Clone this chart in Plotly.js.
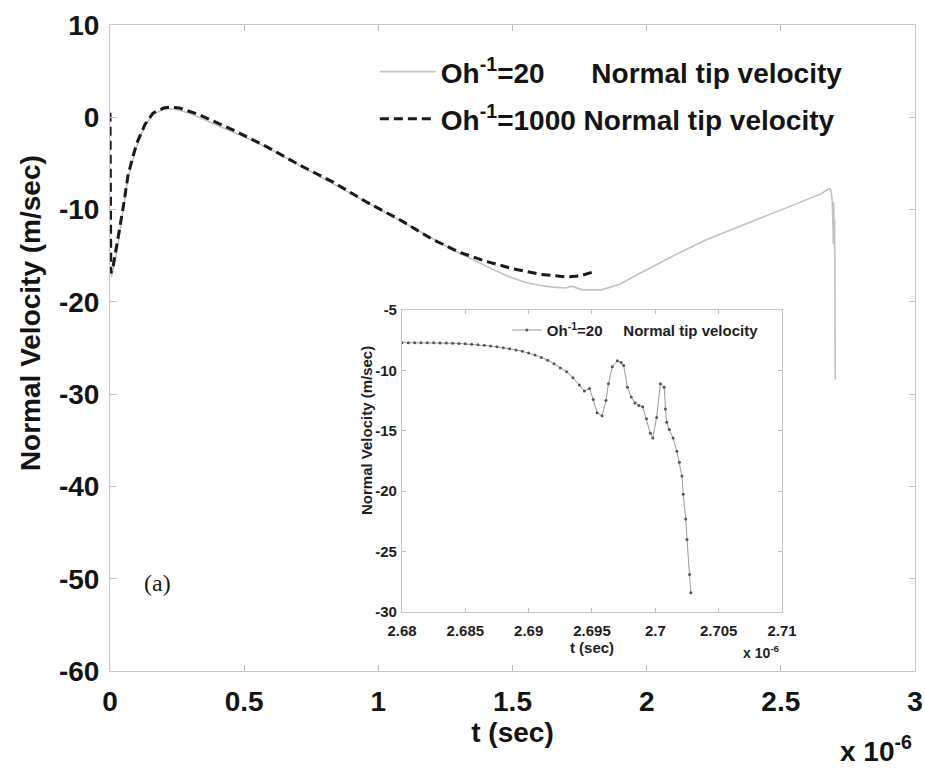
<!DOCTYPE html>
<html>
<head>
<meta charset="utf-8">
<script src="https://cdn.plot.ly/plotly-3.0.1.min.js"></script>
<style>html,body{margin:0;padding:0;background:#fff;}#chart{width:925px;height:770px;}</style>
</head>
<body>
<div id="chart"></div>
<script>
// ---- Data (t in units of 1e-6 s, velocity in m/s) ----
// Oh^-1 = 20, main curve (up to the start of the zoomed region)
var tOh20 = [0.005, 0.02, 0.035, 0.05, 0.067, 0.085, 0.1, 0.13, 0.16, 0.2, 0.24, 0.3, 0.4, 0.5, 0.6, 0.7, 0.8, 0.9, 1.0, 1.1, 1.2, 1.3, 1.4, 1.48, 1.55, 1.6, 1.65, 1.7, 1.72, 1.76, 1.83, 1.9, 1.975, 2.1, 2.22, 2.35, 2.47, 2.58, 2.65, 2.675];
var vOh20 = [-17.3, -15.5, -12.8, -10.0, -6.6, -4.6, -3.1, -0.9, 0.3, 0.9, 0.9, 0.4, -0.9, -2.1, -3.5, -5.1, -6.7, -8.3, -9.9, -11.5, -13.1, -14.7, -16.1, -17.2, -17.9, -18.2, -18.4, -18.5, -18.3, -18.7, -18.7, -18.1, -16.9, -15.0, -13.3, -11.8, -10.4, -9.1, -8.3, -7.8];

// Oh^-1 = 1000
var tOh1000 = [0.0, 0.003, 0.01, 0.019, 0.035, 0.05, 0.067, 0.085, 0.1, 0.13, 0.16, 0.2, 0.224, 0.26, 0.335, 0.46, 0.585, 0.708, 0.83, 0.957, 1.08, 1.2, 1.3, 1.4, 1.5, 1.6, 1.7, 1.75, 1.796];
var vOh1000 = [0.5, -16.9, -16.4, -14.7, -12.2, -9.6, -6.3, -4.3, -2.8, -0.8, 0.45, 1.0, 1.1, 1.0, 0.25, -1.4, -3.2, -5.2, -7.0, -9.2, -11.1, -13.2, -14.6, -15.6, -16.4, -17.0, -17.3, -17.2, -16.8];

// Oh^-1 = 20, zoomed region (inset)
var tZoom = [2.6800, 2.6805, 2.6810, 2.6815, 2.6820, 2.6825, 2.6830, 2.6835, 2.6840, 2.6845, 2.6850, 2.6855, 2.6860, 2.6865, 2.6870, 2.6875, 2.6880, 2.6885, 2.6890, 2.6895, 2.6900, 2.6905, 2.6910, 2.6915, 2.6920, 2.6925, 2.6930, 2.6935, 2.6940, 2.6944, 2.6948, 2.6951, 2.6954, 2.6958, 2.6961, 2.6963, 2.6966, 2.6970, 2.6973, 2.6975, 2.6978, 2.6981, 2.6984, 2.6987, 2.6990, 2.6993, 2.6996, 2.6998, 2.7001, 2.7004, 2.7007, 2.7008, 2.7009, 2.7011, 2.7014, 2.7017, 2.7019, 2.7021, 2.7022, 2.7024, 2.7025, 2.7027, 2.7028];
var vZoom = [-7.70, -7.70, -7.70, -7.70, -7.71, -7.71, -7.72, -7.73, -7.75, -7.77, -7.80, -7.83, -7.87, -7.92, -7.98, -8.05, -8.12, -8.20, -8.30, -8.42, -8.55, -8.72, -8.93, -9.15, -9.45, -9.80, -10.1, -10.6, -11.2, -11.7, -11.5, -12.4, -13.5, -13.75, -12.5, -11.1, -9.7, -9.2, -9.35, -9.6, -11.4, -12.2, -12.7, -12.9, -13.0, -14.0, -15.2, -15.6, -13.9, -11.1, -11.4, -13.2, -14.3, -14.9, -15.6, -16.7, -17.6, -18.75, -20.25, -22.3, -24.0, -26.9, -28.4];

// Tick labels
var mainXTicks = [0, 0.5, 1, 1.5, 2, 2.5, 3];
var mainXLabels = ['0', '0.5', '1', '1.5', '2', '2.5', '3'];
var mainYTicks = [10, 0, -10, -20, -30, -40, -50, -60];
var mainYLabels = ['10', '0', '-10', '-20', '-30', '-40', '-50', '-60'];
var insetXTicks = [2.68, 2.685, 2.69, 2.695, 2.7, 2.705, 2.71];
var insetXLabels = ['2.68', '2.685', '2.69', '2.695', '2.7', '2.705', '2.71'];
var insetYTicks = [-5, -10, -15, -20, -25, -30];
var insetYLabels = ['-5', '-10', '-15', '-20', '-25', '-30'];

var NB = '\u00A0';
var FAM = 'Liberation Sans, Arial, sans-serif';
var big = {family: FAM, size: 28, color: '#141414', weight: 'bold'};
var small = {family: FAM, size: 15, color: '#1e1e1e', weight: 'bold'};

var traces = [
  {
    x: tOh20.concat(tZoom), y: vOh20.concat(vZoom),
    xaxis: 'x', yaxis: 'y', mode: 'lines',
    line: {color: '#c2c2c2', width: 1.6},
    name: 'Oh<sup>-1</sup>=20' + NB + NB + NB + NB + NB + ' Normal tip velocity',
    legend: 'legend'
  },
  {
    x: tOh1000, y: vOh1000,
    xaxis: 'x', yaxis: 'y', mode: 'lines',
    line: {color: '#1a1a1a', width: 3, dash: '9px,5px'},
    name: 'Oh<sup>-1</sup>=1000 Normal tip velocity',
    legend: 'legend3'
  },
  {
    x: tZoom, y: vZoom,
    xaxis: 'x2', yaxis: 'y2', mode: 'lines+markers',
    line: {color: '#9a9a9a', width: 1},
    marker: {color: '#555', size: 3},
    name: 'Oh<sup>-1</sup>=20' + NB + NB + NB + NB + ' Normal tip velocity',
    legend: 'legend2'
  }
];

var axBase = {
  showgrid: false, zeroline: false, showline: true, linecolor: '#c4c4c4', linewidth: 1,
  mirror: 'ticks', ticks: 'inside', tickcolor: '#bdbdbd', tickmode: 'array', fixedrange: true
};

var legBase = {xanchor: 'left', yanchor: 'top', bgcolor: 'rgba(0,0,0,0)', borderwidth: 0};

var layout = {
  width: 925, height: 770,
  margin: {l: 110, r: 10, t: 25, b: 99},
  paper_bgcolor: '#ffffff', plot_bgcolor: '#ffffff',
  showlegend: true,
  xaxis: Object.assign({}, axBase, {
    domain: [0, 1], range: [0, 3], anchor: 'y',
    tickvals: mainXTicks, ticktext: mainXLabels, ticklen: 6,
    tickfont: big, ticklabelstandoff: 5,
    title: {text: 't (sec)', font: big, standoff: 5}
  }),
  yaxis: Object.assign({}, axBase, {
    domain: [0, 1], range: [-60, 10], anchor: 'x',
    tickvals: mainYTicks, ticktext: mainYLabels, ticklen: 6,
    tickfont: big, ticklabelstandoff: 4
  }),
  xaxis2: Object.assign({}, axBase, {
    domain: [0.3627, 0.8348], range: [2.68, 2.71], anchor: 'y2',
    tickvals: insetXTicks, ticktext: insetXLabels, ticklen: 4,
    tickfont: small, ticklabelstandoff: 5,
    title: {text: 't (sec)', font: small, standoff: 3}
  }),
  yaxis2: Object.assign({}, axBase, {
    domain: [0.0913, 0.5588], range: [-30, -5], anchor: 'x2',
    tickvals: insetYTicks, ticktext: insetYLabels, ticklen: 4,
    tickfont: small, ticklabelstandoff: 1
  }),
  legend: Object.assign({}, legBase, {x: 0.329, y: 0.966, font: big, itemwidth: 56}),
  legend3: Object.assign({}, legBase, {x: 0.329, y: 0.893, font: big, itemwidth: 56}),
  legend2: Object.assign({}, legBase, {x: 0.493, y: 0.553, font: small, itemwidth: 30}),
  annotations: [
    {xref: 'paper', yref: 'paper', x: -0.0994, y: 0.554, xanchor: 'center', yanchor: 'middle',
     text: 'Normal Velocity (m/sec)', textangle: -90, showarrow: false, font: big},
    {xref: 'paper', yref: 'paper', x: 0.318, y: 0.373, xanchor: 'center', yanchor: 'middle',
     text: 'Normal Velocity (m/sec)', textangle: -90, showarrow: false, font: small},
    {xref: 'paper', yref: 'paper', x: 0.951, y: -0.121, xanchor: 'center', yanchor: 'middle',
     text: 'x 10<sup>-6</sup>', showarrow: false, font: big},
    {xref: 'paper', yref: 'paper', x: 0.809, y: 0.030, xanchor: 'center', yanchor: 'middle',
     text: 'x 10<sup>-6</sup>', showarrow: false, font: {family: FAM, size: 14, color: '#1e1e1e', weight: 'bold'}},
    {xref: 'paper', yref: 'paper', x: 0.0596, y: 0.136, xanchor: 'center', yanchor: 'middle',
     text: '(a)', showarrow: false, font: {family: 'Liberation Serif, Times New Roman, serif', size: 24, color: '#1a1a1a'}}
  ]
};

Plotly.newPlot('chart', traces, layout, {displayModeBar: false, staticPlot: true});
</script>
</body>
</html>
